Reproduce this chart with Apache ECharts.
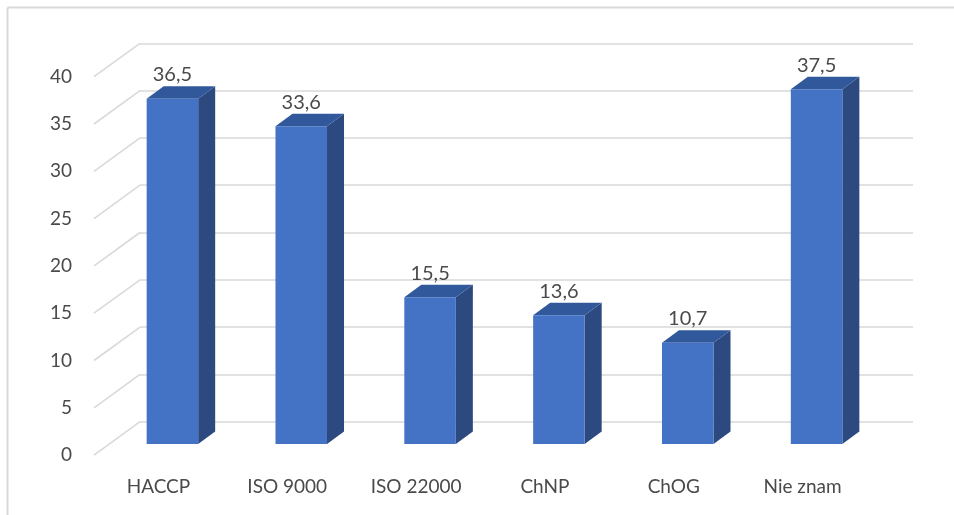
<!DOCTYPE html>
<html>
<head>
<meta charset="utf-8">
<script src="https://cdn.jsdelivr.net/npm/echarts@6/dist/echarts.min.js"></script>
<style>
  html, body { margin: 0; padding: 0; background: #ffffff; }
  #chart { width: 954px; height: 515px; }
</style>
</head>
<body>
<div id="chart"></div>
<script>
// Answers (percent of respondents)
const categories = ['HACCP', 'ISO 9000', 'ISO 22000', 'ChNP', 'ChOG', 'Nie znam'];
const values = [36.5, 33.6, 15.5, 13.6, 10.7, 37.5];
const yTicks = [0, 5, 10, 15, 20, 25, 30, 35, 40];

// Perspective offsets (pixels) for the pseudo-3D look
const FLOOR_DX = -46, FLOOR_DY = 33.4;   // back wall -> front edge of floor
const BAR_DX = -32, BAR_DY = 22.3;       // back wall -> front face of bars
const DEPTH_DX = 17, DEPTH_DY = -12.5;   // bar front -> bar back
const FONT = 'Lato, "Open Sans", sans-serif';
const TEXT = '#4a4a4a';
const GRID = '#d9d9d9';

const fmt = v => String(v).replace('.', ',');

const chart = echarts.init(document.getElementById('chart'), null, { renderer: 'canvas' });

chart.setOption({
  animation: false,
  backgroundColor: '#ffffff',
  graphic: [
    { type: 'line', shape: { x1: 7.5, y1: 7.5, x2: 954, y2: 7.5 }, style: { stroke: GRID, lineWidth: 2 }, silent: true },
    { type: 'line', shape: { x1: 7.5, y1: 7.5, x2: 7.5, y2: 515 }, style: { stroke: GRID, lineWidth: 2 }, silent: true }
  ],
  grid: [
    // back wall
    { left: 140, right: 41, top: 43.3, bottom: 93.3 },
    // front edge of the floor (axis labels live here)
    { left: 94, right: 87, top: 76.7, bottom: 60 }
  ],
  xAxis: [
    { type: 'category', gridIndex: 0, data: categories, show: false },
    {
      type: 'category', gridIndex: 1, data: categories,
      axisLine: { show: false }, axisTick: { show: false },
      axisLabel: { color: TEXT, fontFamily: FONT, fontSize: 19, margin: 22 }
    }
  ],
  yAxis: [
    {
      type: 'value', gridIndex: 0, min: 0, max: 40, interval: 5,
      axisLine: { show: false }, axisTick: { show: false }, axisLabel: { show: false },
      splitLine: { lineStyle: { color: GRID, width: 1.6 } }
    },
    {
      type: 'value', gridIndex: 1, min: 0, max: 40, interval: 5,
      axisLine: { show: false }, axisTick: { show: false },
      splitLine: { show: false },
      axisLabel: { color: TEXT, fontFamily: FONT, fontSize: 19, margin: 22 }
    }
  ],
  series: [
    {
      // slanted side-wall gridlines
      type: 'custom',
      xAxisIndex: 0, yAxisIndex: 0,
      silent: true, z: 1,
      data: yTicks.map(t => [0, t]),
      renderItem: function (params, api) {
        const x = params.coordSys.x;
        const y = api.coord([0, api.value(1)])[1];
        return {
          type: 'line',
          shape: { x1: x, y1: y, x2: x + FLOOR_DX, y2: y + FLOOR_DY },
          style: { stroke: GRID, lineWidth: 1.6 }
        };
      }
    },
    {
      type: 'custom',
      xAxisIndex: 0, yAxisIndex: 0,
      z: 5,
      data: values.map((v, i) => [i, v]),
      renderItem: function (params, api) {
        const idx = api.value(0);
        const v = api.value(1);
        const base = api.coord([idx, 0]);
        const top = api.coord([idx, v]);
        const w = api.size([1, 0])[0] * 0.4;
        const cx = base[0] + BAR_DX;
        const x0 = cx - w / 2, x1 = cx + w / 2;
        const yb = base[1] + BAR_DY, yt = top[1] + BAR_DY;
        return {
          type: 'group',
          children: [
            {
              type: 'polygon',
              shape: { points: [[x1, yt], [x1 + DEPTH_DX, yt + DEPTH_DY], [x1 + DEPTH_DX, yb + DEPTH_DY], [x1, yb]] },
              style: { fill: '#2c4a80' }
            },
            {
              type: 'polygon',
              shape: { points: [[x0, yt], [x0 + DEPTH_DX, yt + DEPTH_DY], [x1 + DEPTH_DX, yt + DEPTH_DY], [x1, yt]] },
              style: { fill: '#32589c' }
            },
            {
              type: 'rect',
              shape: { x: x0, y: yt, width: w, height: yb - yt },
              style: { fill: '#4472c4' }
            },
            {
              type: 'text',
              x: cx, y: yt - 24,
              style: {
                text: fmt(v), fill: TEXT, font: '20px ' + FONT,
                align: 'center', verticalAlign: 'middle'
              }
            }
          ]
        };
      }
    }
  ]
});
</script>
</body>
</html>
